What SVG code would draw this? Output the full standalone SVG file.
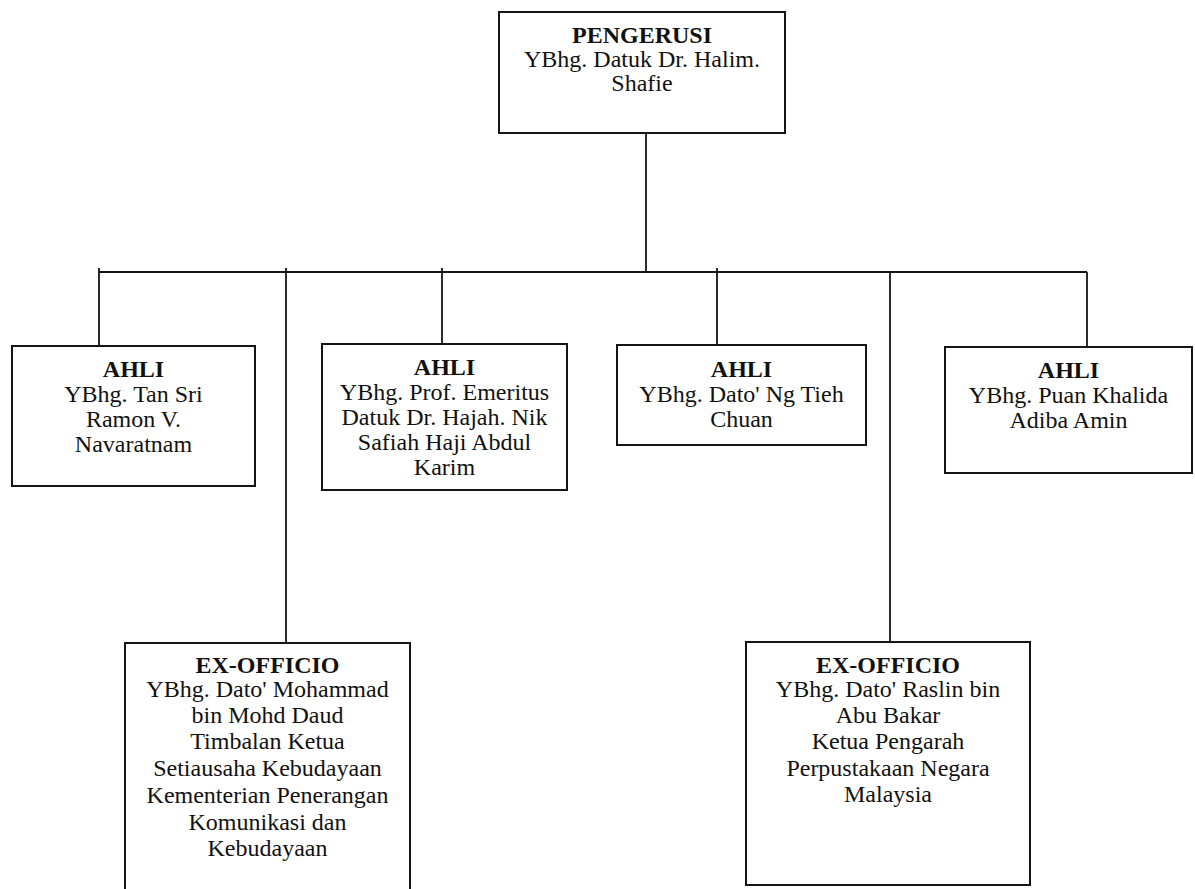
<svg xmlns="http://www.w3.org/2000/svg" width="1195" height="889" viewBox="0 0 1195 889">
<style>
.box{fill:#fff;stroke:#151515;stroke-width:2}
.con{fill:none;stroke:#151515;stroke-width:1.8}
text{font-family:"Liberation Serif","Times New Roman",serif;font-size:24px;fill:#111;text-anchor:middle}
.h{font-weight:bold}
</style>
<rect width="1195" height="889" fill="#fff"/>
<g id="connectors">
<path class="con" d="M646 133V272M99 272H1087M99 268V346M286 268V643M442 268V344M717 268V345M890 272V642M1087 272V347"/>
</g>
<g id="pengerusi">
<rect class="box" x="499" y="12" width="286" height="121"/>
<text x="642" y="43" class="h">PENGERUSI</text>
<text x="642" y="67">YBhg. Datuk Dr. Halim.</text>
<text x="642" y="91">Shafie</text>
</g>
<g id="ahli1">
<rect class="box" x="12" y="346" width="243" height="140"/>
<text x="133.5" y="377" class="h">AHLI</text>
<text x="133.5" y="402">YBhg. Tan Sri</text>
<text x="133.5" y="427">Ramon V.</text>
<text x="133.5" y="452">Navaratnam</text>
</g>
<g id="ahli2">
<rect class="box" x="322" y="344" width="245" height="146"/>
<text x="444.5" y="375" class="h">AHLI</text>
<text x="444.5" y="400">YBhg. Prof. Emeritus</text>
<text x="444.5" y="425">Datuk Dr. Hajah. Nik</text>
<text x="444.5" y="450">Safiah Haji Abdul</text>
<text x="444.5" y="475">Karim</text>
</g>
<g id="ahli3">
<rect class="box" x="617" y="345" width="249" height="100"/>
<text x="741.5" y="377" class="h">AHLI</text>
<text x="741.5" y="402">YBhg. Dato' Ng Tieh</text>
<text x="741.5" y="427">Chuan</text>
</g>
<g id="ahli4">
<rect class="box" x="945" y="347" width="247" height="126"/>
<text x="1068.5" y="378" class="h">AHLI</text>
<text x="1068.5" y="403">YBhg. Puan Khalida</text>
<text x="1068.5" y="428">Adiba Amin</text>
</g>
<g id="exofficio1">
<rect class="box" x="125" y="643" width="285" height="260"/>
<text x="267.5" y="673" class="h">EX-OFFICIO</text>
<text x="267.5" y="697">YBhg. Dato' Mohammad</text>
<text x="267.5" y="723">bin Mohd Daud</text>
<text x="267.5" y="749">Timbalan Ketua</text>
<text x="267.5" y="776">Setiausaha Kebudayaan</text>
<text x="267.5" y="803">Kementerian Penerangan</text>
<text x="267.5" y="830">Komunikasi dan</text>
<text x="267.5" y="856">Kebudayaan</text>
</g>
<g id="exofficio2">
<rect class="box" x="746" y="642" width="284" height="243"/>
<text x="888" y="673" class="h">EX-OFFICIO</text>
<text x="888" y="697">YBhg. Dato' Raslin bin</text>
<text x="888" y="723">Abu Bakar</text>
<text x="888" y="749">Ketua Pengarah</text>
<text x="888" y="776">Perpustakaan Negara</text>
<text x="888" y="802">Malaysia</text>
</g>
</svg>
